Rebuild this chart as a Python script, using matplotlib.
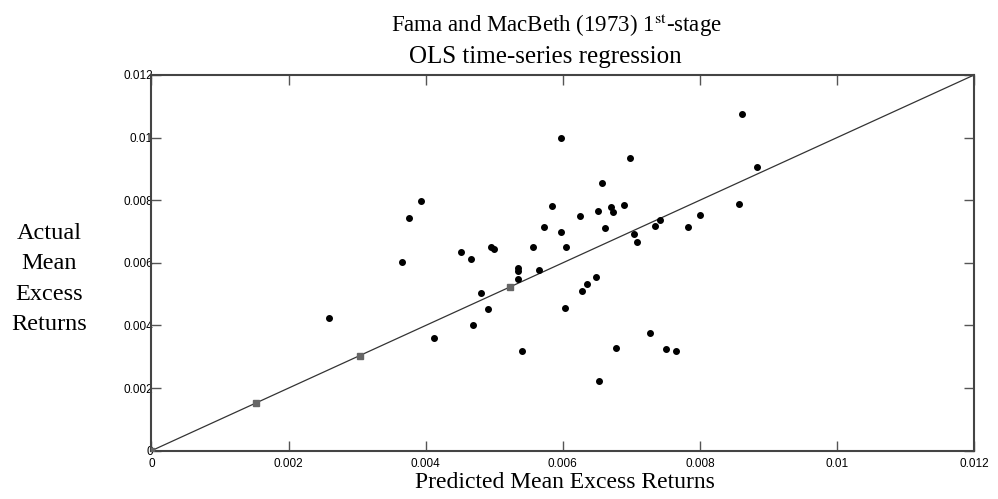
import matplotlib
matplotlib.use("Agg")
import matplotlib.pyplot as plt

# predicted vs actual mean excess returns (scatter)
predicted = [0.00259, 0.00365, 0.00376, 0.00393, 0.00412, 0.00452, 0.00466, 0.00469,
             0.00480, 0.00491, 0.00495, 0.00499, 0.00534, 0.00534, 0.00534, 0.00540,
             0.00556, 0.00565, 0.00573, 0.00585, 0.00597, 0.00597, 0.00603, 0.00604,
             0.00625, 0.00628, 0.00635, 0.00649, 0.00652, 0.00653, 0.00657, 0.00661,
             0.00671, 0.00673, 0.00678, 0.00690, 0.00698, 0.00704, 0.00708, 0.00727,
             0.00734, 0.00742, 0.00750, 0.00765, 0.00783, 0.00800, 0.00857, 0.00862,
             0.00883]
actual = [0.00425, 0.00602, 0.00743, 0.00799, 0.00360, 0.00635, 0.00612, 0.00401,
          0.00503, 0.00452, 0.00651, 0.00644, 0.00585, 0.00574, 0.00548, 0.00317,
          0.00650, 0.00578, 0.00713, 0.00782, 0.01000, 0.00698, 0.00457, 0.00650,
          0.00749, 0.00509, 0.00532, 0.00555, 0.00766, 0.00224, 0.00856, 0.00710,
          0.00779, 0.00764, 0.00329, 0.00784, 0.00934, 0.00692, 0.00666, 0.00377,
          0.00719, 0.00736, 0.00326, 0.00317, 0.00716, 0.00754, 0.00787, 0.01075,
          0.00907]

# squares on the 45 degree line
line_pts = [0.0, 0.00153, 0.00304, 0.00523]
diag = [0.0, 0.012]

ticks = [0, 0.002, 0.004, 0.006, 0.008, 0.01, 0.012]
tick_labels = ["0", "0.002", "0.004", "0.006", "0.008", "0.01", "0.012"]

plt.rcParams['mathtext.fontset'] = 'stix'
serif = ['Liberation Serif', 'DejaVu Serif']

fig = plt.figure(figsize=(9.98, 4.99), dpi=100)
ax = fig.add_axes([0.1518, 0.0968, 0.8242, 0.7529])

ax.plot(diag, diag, color='#333333', lw=0.9, zorder=2)
ax.plot(line_pts, line_pts, ls='none', marker='s', ms=5, color='#666666', zorder=3)
ax.plot(predicted, actual, ls='none', marker='o', ms=4, color='black', zorder=4)

ax.set_xlim(0, 0.012)
ax.set_ylim(0, 0.012)
ax.set_xticks(ticks)
ax.set_xticklabels(tick_labels)
ax.set_yticks(ticks)
ax.set_yticklabels(tick_labels)
ax.tick_params(direction='in', length=7, width=1, color='#555555',
               top=True, right=True, labelsize=8.5)
ax.tick_params(axis='x', pad=5)
ax.tick_params(axis='y', pad=-1)
for lbl in ax.get_xticklabels() + ax.get_yticklabels():
    lbl.set_fontfamily('Liberation Sans')
for sp in ax.spines.values():
    sp.set_color('#444444')
    sp.set_linewidth(1.5)

# titles and axis labels placed in figure pixels
W, H = 998, 499
fig.text(556 / W, 1 - 32 / H, "Fama and MacBeth (1973) 1$^{\\mathrm{st}}$-stage",
         ha='center', va='baseline', fontsize=16.5, family=serif)
fig.text(545 / W, 1 - 63 / H, "OLS time-series regression",
         ha='center', va='baseline', fontsize=18, family=serif)
fig.text(565 / W, 1 - 488 / H, "Predicted Mean Excess Returns",
         ha='center', va='baseline', fontsize=17, family=serif)
fig.text(49 / W, 1 - 279 / H, "Actual\nMean\nExcess\nReturns",
         ha='center', va='center', fontsize=17.5, family=serif, linespacing=1.6)

fig.savefig("out.png", dpi=100)
